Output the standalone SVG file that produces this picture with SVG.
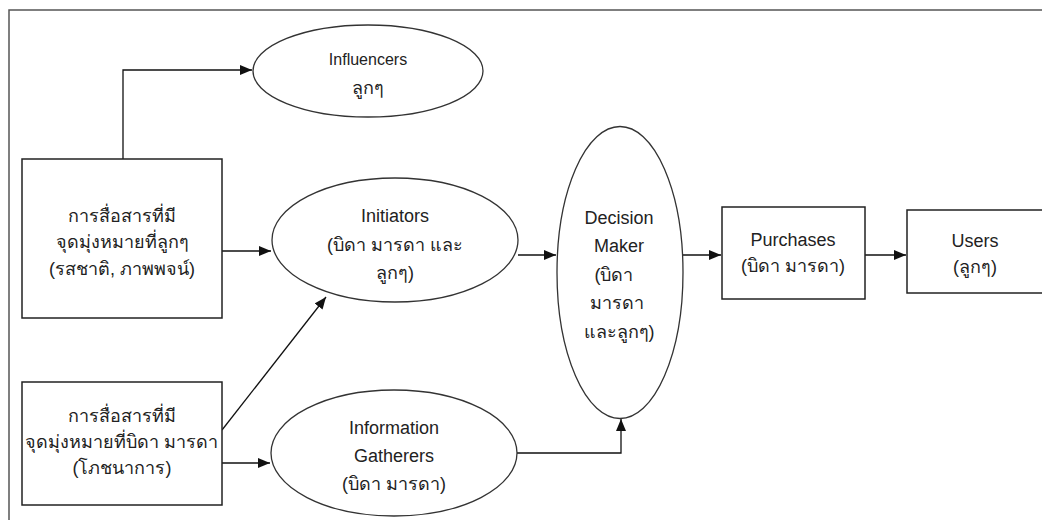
<svg xmlns="http://www.w3.org/2000/svg" width="1042" height="520" viewBox="0 0 1042 520">
<style>
.box{fill:#fff;stroke:#222;stroke-width:1.5}
.ell{fill:#fff;stroke:#333;stroke-width:1.3}
.frame{fill:none;stroke:#555;stroke-width:1.5}
.con{fill:none;stroke:#111;stroke-width:1.3}
text{font-family:"Liberation Sans","Noto Sans",sans-serif;font-size:18px;fill:#222;text-anchor:middle}
.sm{font-size:16px}
</style>
<defs>
<marker id="arr" markerWidth="12" markerHeight="10" refX="12" refY="5" orient="auto" markerUnits="userSpaceOnUse">
<path d="M0,0 L12,5 L0,10 Z" fill="#111"/>
</marker>
</defs>
<rect width="1042" height="520" fill="#fff"/>
<path class="frame" d="M9,522 V10 H1044"/>
<g id="connectors">
<path class="con" d="M123,159 V70 H252" marker-end="url(#arr)"/>
<path class="con" d="M222,251 H271" marker-end="url(#arr)"/>
<path class="con" d="M222,430 L326,297" marker-end="url(#arr)"/>
<path class="con" d="M222,463 H270" marker-end="url(#arr)"/>
<path class="con" d="M518,255 H556" marker-end="url(#arr)"/>
<path class="con" d="M517,453 H621 V419" marker-end="url(#arr)"/>
<path class="con" d="M682,255 H721" marker-end="url(#arr)"/>
<path class="con" d="M865,255 H906" marker-end="url(#arr)"/>
</g>
<g id="influencers">
<ellipse class="ell" cx="368" cy="71" rx="115" ry="46"/>
<text class="sm" x="368" y="65">Influencers</text>
<text x="368" y="94">ลูกๆ</text>
</g>
<g id="child-comm">
<rect class="box" x="22" y="159" width="200" height="159"/>
<text x="122" y="222">การสื่อสารที่มี</text>
<text x="122" y="248">จุดมุ่งหมายที่ลูกๆ</text>
<text x="122" y="275">(รสชาติ, ภาพพจน์)</text>
</g>
<g id="parent-comm">
<rect class="box" x="22" y="382" width="200" height="123"/>
<text x="122" y="422">การสื่อสารที่มี</text>
<text x="122" y="448">จุดมุ่งหมายที่บิดา มารดา</text>
<text x="122" y="474">(โภชนาการ)</text>
</g>
<g id="initiators">
<ellipse class="ell" cx="395" cy="240" rx="123" ry="62"/>
<text x="395" y="222">Initiators</text>
<text x="395" y="251">(บิดา มารดา และ</text>
<text x="395" y="279">ลูกๆ)</text>
</g>
<g id="info-gatherers">
<ellipse class="ell" cx="394" cy="453" rx="123" ry="63"/>
<text x="394" y="434">Information</text>
<text x="394" y="462">Gatherers</text>
<text x="394" y="490">(บิดา มารดา)</text>
</g>
<g id="decision-maker">
<ellipse class="ell" cx="620" cy="272.5" rx="63" ry="146"/>
<text x="619" y="224">Decision</text>
<text x="619" y="252">Maker</text>
<text x="614" y="281">(บิดา</text>
<text x="617" y="309">มารดา</text>
<text x="619" y="338">และลูกๆ)</text>
</g>
<g id="purchases">
<rect class="box" x="722" y="207" width="143" height="92"/>
<text x="793" y="246">Purchases</text>
<text x="793" y="272">(บิดา มารดา)</text>
</g>
<g id="users">
<rect class="box" x="907" y="210" width="140" height="83"/>
<text x="975" y="247">Users</text>
<text x="975" y="273">(ลูกๆ)</text>
</g>
</svg>
